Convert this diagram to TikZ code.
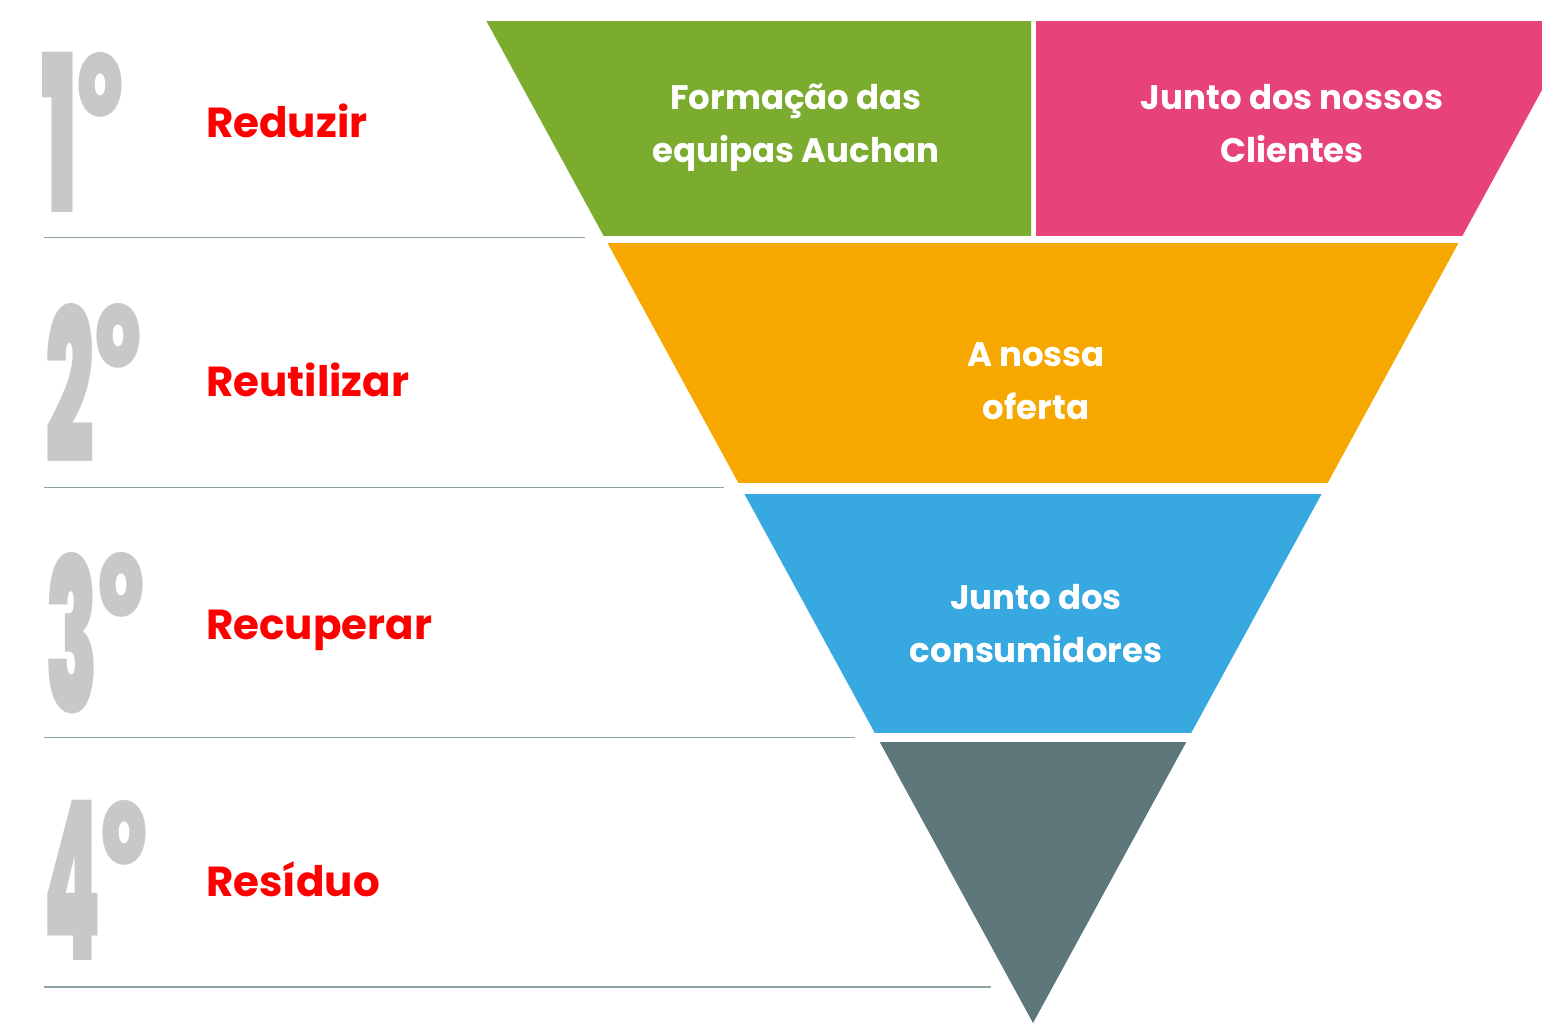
\documentclass[tikz,border=0pt]{standalone}
\usepackage{graphicx}
\usepackage{fontspec}
\setmainfont{Poppins}
\IfFontExistsTF{Poppins Black}{\newfontfamily\numfont{Poppins Black}}{\newfontfamily\numfont{Liberation Sans}[UprightFeatures={FakeBold=2}]}
\definecolor{verde}{HTML}{7BAC2F}
\definecolor{rosa}{HTML}{E8427A}
\definecolor{laranja}{HTML}{F6A800}
\definecolor{azul}{HTML}{38A9E0}
\definecolor{ardosia}{HTML}{5E777B}
\definecolor{cinza}{HTML}{C8C8C8}
\definecolor{linha}{HTML}{8FA3A6}
\definecolor{vermelho}{HTML}{FF0000}

\begin{document}
\begin{tikzpicture}
% estilos de texto e linha
\tikzstyle{degrau} = [anchor=base west,inner sep=0,text=vermelho,font=\fontsize{42}{48}\selectfont\bfseries]
\tikzstyle{rotulo} = [align=center,inner sep=0,text=white,font=\fontsize{34}{53}\selectfont\bfseries]
\tikzstyle{numeral} = [anchor=north west,inner sep=0,text=cinza,font=\numfont]
\tikzstyle{divisoria} = [draw=linha,line width=1.2pt]
% definicao faixa da piramide
% #1: y superior
% #2: y inferior
% #3: x esquerdo do recorte
% #4: x direito do recorte
% #5: cor da faixa
\newcommand{\faixa}[5]{
\begin{scope}
\clip (#3,#1) rectangle (#4,#2);
\fill [#5] (486.4,21) -- (1579.6,21) -- (1033,1023) -- cycle;
\end{scope}
}
% definicao numero ordinal
% #1: nome do no
% #2: x do algarismo
% #3: y do topo
% #4: algarismo
% #5: largura do algarismo
% #6: x do indicador
\newcommand{\ordinal}[6]{
\node [numeral] (#1) at (#2,#3) {\resizebox{#5pt}{160pt}{#4}};
\node [numeral] (#1o) at (#6,#3) {\resizebox{46pt}{64pt}{o}};
}
% --------------------------------------
\begin{scope}[x=1pt,y=-1pt]
% --------------------------------------
\useasboundingbox (0,0) rectangle (1542,1023);
\clip (0,0) rectangle (1542,1023);
% desenhar faixas
\faixa{21}{235}{0}{1031}{verde}
\faixa{21}{235}{1036}{1542}{rosa}
\faixa{243}{482}{0}{1542}{laranja}
\faixa{494}{732}{0}{1542}{azul}
\faixa{742}{1023}{0}{1542}{ardosia}
% desenhar divisorias
\foreach \y/\xf in {237.5/585,487.5/724,737.5/855,987/991}
\draw [divisoria] (44,\y) -- (\xf,\y);
% desenhar numeros
\ordinal{um}{41}{52}{1}{36}{77}
\ordinal{dois}{45}{303}{2}{49}{95}
\ordinal{tres}{45}{552}{3}{53}{98}
\ordinal{quatro}{43}{800}{4}{58}{101}
% desenhar etapas
\node [degrau] (reduzir) at (206,137) {Reduzir};
\node [degrau] (reutilizar) at (206,396) {Reutilizar};
\node [degrau] (recuperar) at (206,639) {Recuperar};
\node [degrau] (residuo) at (206,896) {Resíduo};
% desenhar rotulos
\node [rotulo] (formacao) at (796,128) {Formação das\\equipas Auchan};
\node [rotulo] (clientes) at (1292,124) {Junto dos nossos\\Clientes};
\node [rotulo] (oferta) at (1036,381) {A nossa\\oferta};
\node [rotulo] (consumidores) at (1036,624) {Junto dos\\consumidores};
% --------------------------------------
\end{scope}% --------------------------------------
\end{tikzpicture}
\end{document}
